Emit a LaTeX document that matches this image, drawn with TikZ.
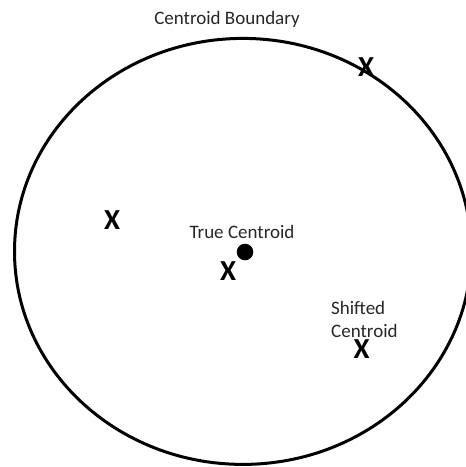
\documentclass[tikz,border=0pt]{standalone}
\usepackage{fontspec}
\setmainfont{Carlito}
\begin{document}
\begin{tikzpicture}[x=1pt,y=-1pt,
  lbl/.style={font=\fontsize{19}{23}\selectfont, inner sep=0pt, text=black!85},
  xmark/.style={font=\fontsize{29}{29}\selectfont\bfseries, inner sep=0pt},
  boundary/.style={line width=3pt, draw=black}]
\useasboundingbox (0,0) rectangle (466,467);
\begin{scope}
  \clip (0,0) rectangle (466,467);
  \draw[boundary] (242.9,251.4) ellipse [x radius=228.4, y radius=213];
\end{scope}
\node[lbl, anchor=base] (boundlbl) at (227,24) {Centroid Boundary};
\node[lbl, anchor=base] (truelbl) at (242,238) {True Centroid};
\node[lbl, anchor=north west, align=left] (shiftlbl) at (331,301) {Shifted\\Centroid};
\fill (245,252) circle (8.3) coordinate (truedot);
\node[xmark] (xtop) at (366,67) {X};
\node[xmark] (xleft) at (112,220) {X};
\node[xmark] (xtrue) at (228,271) {X};
\node[xmark] (xshift) at (361.5,349) {X};
\end{tikzpicture}
\end{document}
